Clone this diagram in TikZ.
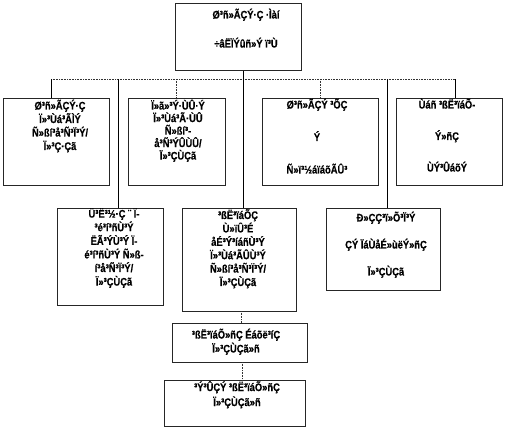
\documentclass[tikz,border=0pt]{standalone}
\usepackage{fontspec}
\setmainfont[FakeStretch=0.85,BoldFeatures={FakeBold=0.6}]{Liberation Sans}
\begin{document}
\begin{tikzpicture}[x=1pt,y=-1pt,
  box/.style={draw=black!85, line width=0.6pt, inner sep=0pt, anchor=north west},
  txt/.style={font=\bfseries\fontsize{11}{#1}\selectfont, align=center, inner sep=0pt, anchor=north},
  txt/.default=13,
  solidcon/.style={draw=black, line width=0.6pt},
  dotcon/.style={draw=black!80, line width=0.6pt, densely dotted}]
\useasboundingbox (0,0) rectangle (505,428);
% boxes
\node[box, minimum width=126pt, minimum height=67pt] (top) at (175,3) {};
\node[box, minimum width=106pt, minimum height=87pt] (b1) at (3,98) {};
\node[box, minimum width=97pt, minimum height=87pt] (b2) at (128,98) {};
\node[box, minimum width=116pt, minimum height=87pt] (b3) at (262,98) {};
\node[box, minimum width=106pt, minimum height=87pt] (b4) at (396,98) {};
\node[box, minimum width=106pt, minimum height=97pt] (ra) at (57,208) {};
\node[box, minimum width=114pt, minimum height=103pt] (rb) at (182,208) {};
\node[box, minimum width=114pt, minimum height=82pt] (rc) at (326,208) {};
\node[box, minimum width=135pt, minimum height=39pt] (rd) at (172,323) {};
\node[box, minimum width=141pt, minimum height=46pt] (re) at (164,380) {};
% texts
\node[txt=29] (ttop) at (246,8.5) {Ø³ñ»ÃÇÝ·Ç ·Ìàí\\÷âËÏÝûñ»Ý ï³Ù};
\node[txt=13.5] (tb1) at (60,99.5) {Ø³ñ»ÃÇÝ·Ç\\Ï»³Ùá³ÃÌÝ\\Ñ»ßí³å³Ñ³Ï³Ý/\\Ï»³Ç·Çã};
\node[txt=12.5] (tb2) at (178,99.5) {Ï»ã»³Ý·ÙÛ·Ý\\Ï»³Ùá³Ã·ÙÛ\\Ñ»ßí³-\\å³Ñ³ÝÛÙÛ/\\Ï»³ÇÙÇã};
\node[txt=32.5] (tb3) at (317,98.5) {Ø³ñ»ÃÇÝ ³ÕÇ\\Ý\\Ñ»ï³½áïáõÃÛ³};
\node[txt=31.5] (tb4) at (447,98.5) {Ùáñ ³ßË³ïáÕ-\\Ý»ñÇ\\ÙÝ³ÛáõÝ};
\node[txt=13.6] (tra) at (114,208) {Ü³Ë³½·Ç ¨ Ï-\\³é³í³ñÙ³Ý\\ËÃ³ÝÙ³Ý Ï-\\é³í³ñÙ³Ý Ñ»ß-\\í³å³Ñ³Ï³Ý/\\Ï»³ÇÙÇã};
\node[txt=13.4] (trb) at (238,209) {³ßË³ïáÕÇ\\Ù»ïÛ³É\\åÉ³Ý³íáñÙ³Ý\\Ï»³Ùá³ÃÛÙ³Ý\\Ñ»ßí³å³Ñ³Ï³Ý/\\Ï»³ÇÙÇã};
\node[txt=27] (trc) at (386,211.5) {Ð»ÇÇ³ï»Õ³Ï³Ý\\ÇÝ ÏáÙåÉ»ùëÝ»ñÇ\\Ï»³ÇÙÇã};
\node[txt=14] (trd) at (236,328.5) {³ßË³ïáÕ»ñÇ Éáõë³íÇ\\Ï»³ÇÙÇã»ñ};
\node[txt=15] (tre) at (237,381) {³Ý³ÛÇÝ ³ßË³ïáÕ»ñÇ\\Ï»³ÇÙÇã»ñ};
% bus
\coordinate (c) at (243,79);
\coordinate (k1) at (51,79);
\coordinate (k2) at (118,79);
\coordinate (k3) at (176,79);
\coordinate (k5) at (320,79);
\coordinate (k6) at (387,79);
\coordinate (k7) at (455,79);
\draw[solidcon] (top.south -| c) -- (c);
\draw[dotcon] (k1) -- (k7);
\draw[solidcon] (k1) -- (k1 |- b1.north);
\draw[solidcon] (k2) -- (k2 |- ra.north);
\draw[dotcon] (k3) -- (k3 |- b2.north);
\draw[solidcon] (c) -- (c |- rb.north);
\draw[dotcon] (k5) -- (k5 |- b3.north);
\draw[solidcon] (k6) -- (k6 |- rc.north);
\draw[solidcon] (k7) -- (k7 |- b4.north);
\coordinate (d1) at (241,311);
\draw[dotcon] (d1) -- (d1 |- rd.north);
\coordinate (d2) at (242,362);
\draw[dotcon] (d2) -- (d2 |- re.north);
\end{tikzpicture}
\end{document}
